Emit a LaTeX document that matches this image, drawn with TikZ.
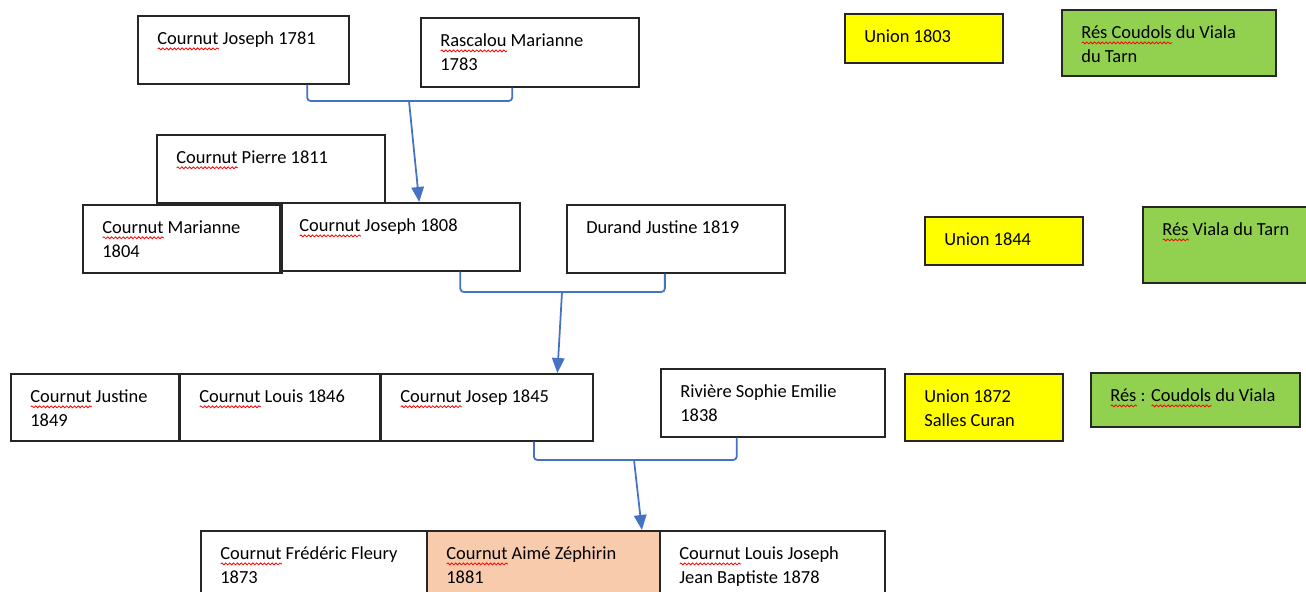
\documentclass[tikz,border=0pt]{standalone}
\usepackage{fontspec}
\setmainfont{Carlito}
\usetikzlibrary{arrows.meta,calc,decorations.pathmorphing}
\definecolor{linkblue}{HTML}{4472C4}
\definecolor{unionyellow}{HTML}{FFFF00}
\definecolor{resgreen}{HTML}{92D050}
\definecolor{focuspeach}{HTML}{F8CBAD}
\newsavebox\wavebox
\newcommand\redwave[1]{\sbox\wavebox{#1}\rlap{\tikz[baseline=0pt]\draw[red, line width=0.45pt, decorate, decoration={snake, amplitude=0.55pt, segment length=2.2pt}] (0pt,-2.4pt) -- (\wd\wavebox,-2.4pt);}#1}
\tikzset{
  person/.style={draw=black!85, line width=1pt, anchor=north west, minimum height=1.36cm, inner sep=0pt},
  union/.style={person, fill=unionyellow},
  residence/.style={person, fill=resgreen},
  focus/.style={person, fill=focuspeach},
  tag/.style={anchor=north west, align=left, inner sep=0pt, xshift=0.4cm, yshift=-0.33cm, font=\fontsize{10.5pt}{13.6pt}\selectfont},
  link/.style={draw=linkblue, line width=1pt, rounded corners=2pt},
  arrow/.style={link, -{Triangle[length=3mm, width=2.5mm]}}
}

\begin{document}
\begin{tikzpicture}[x=0.02cm, y=-0.02cm]
  \clip (0,0) rectangle (1306,592);
  % generation 1781
  \node[person, minimum width=4.22cm, label={[tag]north west:\redwave{Cournut} Joseph 1781}] (j1781) at (137,15) {};
  \node[person, minimum width=4.36cm, minimum height=1.38cm, label={[tag]north west:\redwave{Rascalou} Marianne\\1783}] (rascalou) at (420,17) {};
  \node[union, minimum width=3.16cm, minimum height=0.98cm, label={[tag]north west:Union 1803}] (union1803) at (844,13) {};
  \node[residence, minimum width=4.28cm, minimum height=1.32cm, label={[tag]north west:{\redwave{Rés Coudols} du Viala\\du Tarn}}] (res1803) at (1061,9) {};

  % generation 1808
  \node[person, minimum width=4.56cm, label={[tag]north west:\redwave{Cournut} Pierre 1811}] (pierre) at (156,134) {};
  \node[person, minimum width=3.98cm, label={[tag]north west:\redwave{Cournut} Marianne\\1804}] (marianne) at (82,204) {};
  \node[person, minimum width=4.80cm, label={[tag]north west:\redwave{Cournut} Joseph 1808}] (j1808) at (279,202) {};
  \node[person, minimum width=4.36cm, label={[tag]north west:Durand Justine 1819}] (durand) at (566,204) {};
  \node[union, minimum width=3.16cm, minimum height=0.96cm, label={[tag]north west:Union 1844}] (union1844) at (924,216) {};
  \node[residence, minimum width=3.40cm, minimum height=1.52cm, label={[tag]north west:\redwave{Rés} Viala du Tarn}] (res1844) at (1142,206) {};

  % generation 1845
  \node[person, minimum width=3.36cm, minimum height=1.34cm, label={[tag]north west:\redwave{Cournut} Justine\\1849}] (justine) at (10,373) {};
  \node[person, minimum width=4.00cm, minimum height=1.34cm, label={[tag]north west:\redwave{Cournut} Louis 1846}] (louis1846) at (179,373) {};
  \node[person, minimum width=4.24cm, minimum height=1.34cm, label={[tag]north west:\redwave{Cournut} Josep 1845}] (josep1845) at (380,373) {};
  \node[person, minimum width=4.48cm, label={[tag]north west:Rivière Sophie Emilie\\1838}] (riviere) at (660,368) {};
  \node[union, minimum width=3.16cm, minimum height=1.34cm, label={[tag]north west:Union 1872\\Salles Curan}] (union1872) at (904,373) {};
  \node[residence, minimum width=4.18cm, minimum height=1.08cm, label={[tag]north west:{\redwave{Rés} : \redwave{Coudols} du Viala}}] (res1872) at (1090,372) {};

  % generation 1873
  \node[person, minimum width=4.52cm, label={[tag]north west:\redwave{Cournut} Frédéric Fleury\\1873}] (frederic) at (200,530) {};
  \node[focus, minimum width=4.66cm, label={[tag]north west:\redwave{Cournut} Aimé Zéphirin\\1881}] (aime) at (426,530) {};
  \node[person, minimum width=4.50cm, label={[tag]north west:\redwave{Cournut} Louis Joseph\\Jean Baptiste 1878}] (louisjoseph) at (659,530) {};

  % unions
  \coordinate (u1) at (409,101);
  \coordinate (u2) at (562,292);
  \coordinate (u3) at (634,460);
  \draw[link] ($(j1781.south west)!0.8!(j1781.south east)$) |- (u1) -| ($(rascalou.south west)!0.42!(rascalou.south east)$);
  \draw[arrow] (u1) -- ($(j1808.north west)!0.58!(j1808.north east)$);
  \draw[link] ($(j1808.south west)!0.75!(j1808.south east)$) |- (u2) -| ($(durand.south west)!0.45!(durand.south east)$);
  \draw[arrow] (u2) -- ($(josep1845.north west)!0.83!(josep1845.north east)$);
  \draw[link] ($(josep1845.south west)!0.72!(josep1845.south east)$) |- (u3) -| ($(riviere.south west)!0.34!(riviere.south east)$);
  \draw[arrow] (u3) -- ($(aime.north west)!0.92!(aime.north east)$);
\end{tikzpicture}
\end{document}
